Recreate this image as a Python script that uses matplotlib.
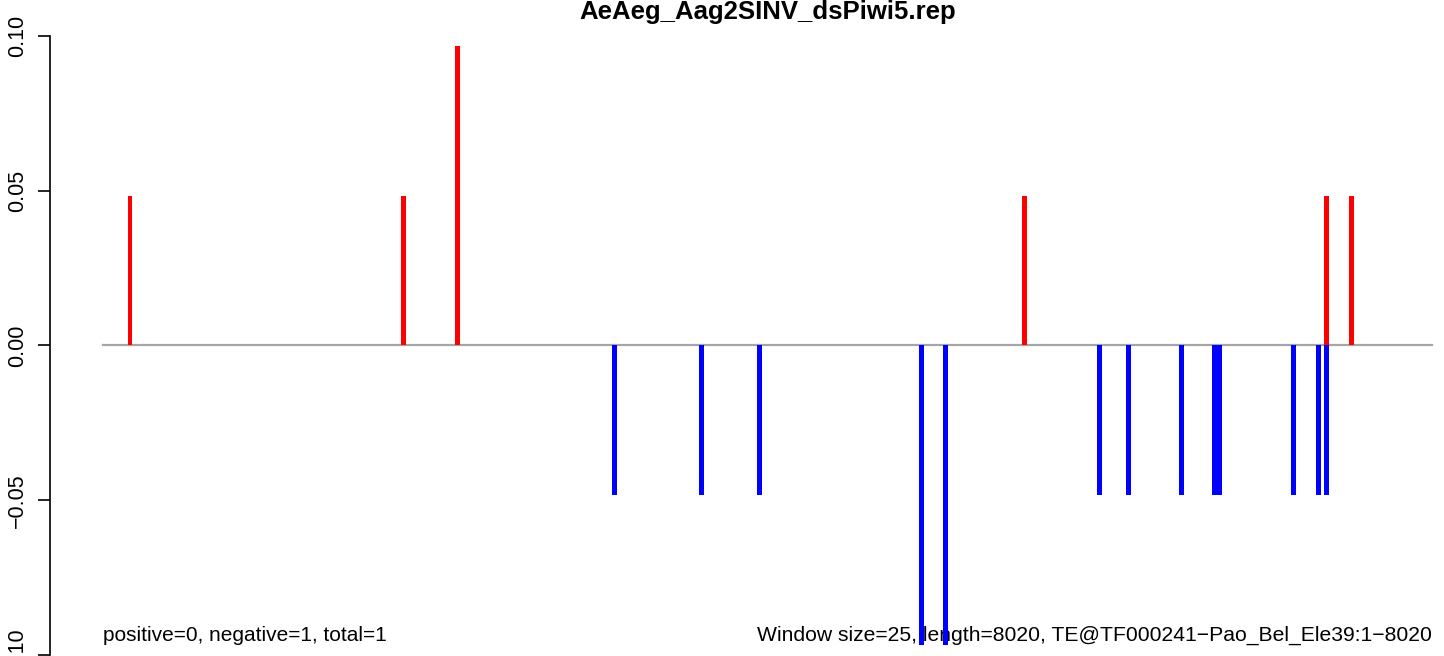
import matplotlib
matplotlib.use("Agg")
import matplotlib.pyplot as plt

plt.rcParams['font.family'] = ['Liberation Sans', 'DejaVu Sans']

title = "AeAeg_Aag2SINV_dsPiwi5.rep"
te_length = 8020
left_note = "positive=0, negative=1, total=1"
right_note = "Window size=25, length=8020, TE@TF000241\u2212Pao_Bel_Ele39:1\u22128020"

pos_x = [163, 1813, 2139, 5561, 7384, 7535]
pos_y = [0.0484, 0.0484, 0.0968, 0.0484, 0.0484, 0.0484]
neg_x = [3087, 3612, 3962, 4940, 5084, 6014, 6189, 6509, 6708, 6738, 7185, 7335, 7384]
neg_y = [-0.0484, -0.0484, -0.0484, -0.0968, -0.0968, -0.0484, -0.0484, -0.0484,
         -0.0484, -0.0484, -0.0484, -0.0484, -0.0484]
yticks = [-0.10, -0.05, 0.00, 0.05, 0.10]
ytick_labels = ["\u22120.10", "\u22120.05", "0.00", "0.05", "0.10"]

W, H = 1444, 656
fig = plt.figure(figsize=(W / 100, H / 100), dpi=100)
# axes occupy full figure; limits chosen so x=0 -> 103px, x=8020 -> 1432px
ax = fig.add_axes([0, 0, 1, 1])
upp = te_length / (1432 - 103)
ax.set_xlim(-103 * upp, (W - 103) * upp)
ypp = 0.1 / 310
ax.set_ylim(-0.10 - (H - 655) * ypp, 0.10 + 36 * ypp)

ax.plot([0, te_length], [0, 0], color='#a6a6a6', lw=1.6, zorder=1)
ax.bar(pos_x, pos_y, width=30, color='#ff0000', zorder=3, linewidth=0)
ax.bar(neg_x, neg_y, width=30, color='#0000ff', zorder=3, linewidth=0)

for s in ['top', 'right', 'bottom']:
    ax.spines[s].set_visible(False)
ax.spines['left'].set_position(('data', -53 * upp))
ax.spines['left'].set_bounds(-0.10, 0.10)
ax.spines['left'].set_linewidth(1.2)
ax.set_xticks([])
ax.set_yticks(yticks)
ax.set_yticklabels(ytick_labels, rotation=90, va='center', fontsize=15.5)
ax.tick_params(axis='y', length=8.6, width=1.2, pad=7)

fig.text(767.5 / W, 1 - 12 / H, title, ha='center', va='center',
         fontsize=18.5, fontweight='bold')
ax.text(0, -0.0938, left_note, ha='left', va='center', fontsize=15, zorder=2)
ax.text(te_length, -0.0938, right_note, ha='right', va='center', fontsize=15.2, zorder=2)

fig.savefig("out.png", dpi=100)
